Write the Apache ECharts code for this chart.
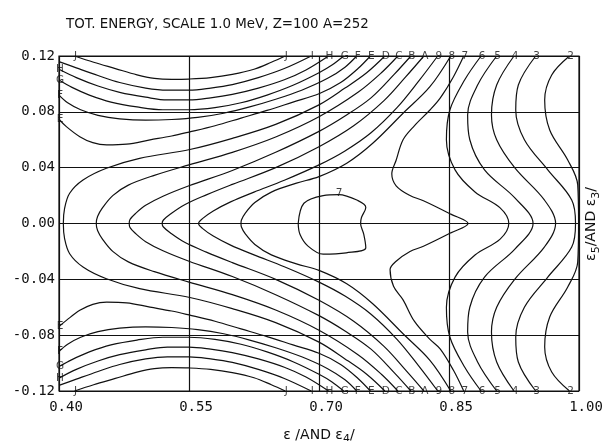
<!DOCTYPE html>
<html>
  <head>
    <title>Total energy contours</title>
    <style>
      html, body {
        margin: 0;
        padding: 0;
        width: 603px;
        height: 441px;
        background: #fff;
      }
      #chart {
        width: 603px;
        height: 441px;
      }
    </style>
  </head>
  <body>
    <div id="chart"></div>
    <script src="https://cdn.jsdelivr.net/npm/echarts@6/dist/echarts.min.js"></script>
    <script type="text/javascript">

      // axis ranges and tick labels
      const xTickLabels = ['0.40', '0.55', '0.70', '0.85', '1.00'];
      const yTickLabels = ['-0.12', '-0.08', '-0.04', '0.00', '0.04', '0.08', '0.12'];

      // contour levels, U shaped ones near the top and bottom edge
      const curveJTop = [[0.418,0.12],[0.44,0.1155],[0.465,0.111],[0.49,0.1065],[0.51,0.104],[0.53,0.1033],[0.55,0.1035],[0.575,0.1045],[0.60,0.1068],[0.625,0.1105],[0.645,0.1155],[0.661,0.12]];
      const curveITop = [[0.40,0.116],[0.42,0.1115],[0.445,0.106],[0.47,0.101],[0.50,0.097],[0.525,0.0955],[0.55,0.0955],[0.575,0.097],[0.60,0.0995],[0.63,0.1045],[0.66,0.111],[0.691,0.12]];
      const curveHTop = [[0.40,0.1105],[0.42,0.1045],[0.445,0.0985],[0.47,0.094],[0.50,0.0905],[0.525,0.0885],[0.55,0.0885],[0.575,0.09],[0.60,0.0925],[0.63,0.097],[0.66,0.103],[0.685,0.11],[0.711,0.12]];
      const curveGTop = [[0.40,0.1028],[0.415,0.0975],[0.435,0.092],[0.46,0.087],[0.49,0.0835],[0.52,0.0815],[0.55,0.0815],[0.58,0.083],[0.61,0.0865],[0.64,0.092],[0.67,0.099],[0.70,0.108],[0.715,0.1135],[0.7285,0.12]];
      const curveFTop = [[0.40,0.092],[0.41,0.0865],[0.425,0.0815],[0.445,0.0775],[0.47,0.075],[0.50,0.074],[0.53,0.0745],[0.56,0.076],[0.59,0.079],[0.62,0.0835],[0.65,0.089],[0.68,0.0955],[0.71,0.104],[0.73,0.112],[0.7435,0.12]];
      const curveETop = [[0.40,0.0747],[0.4085,0.0694],[0.424,0.0622],[0.439,0.0579],[0.455,0.0563],[0.478,0.0568],[0.505,0.0599],[0.53,0.0627],[0.55,0.0655],[0.58,0.07],[0.61,0.0755],[0.64,0.081],[0.67,0.087],[0.70,0.093],[0.725,0.101],[0.745,0.111],[0.7593,0.12]];

      const curveJBottom = [[0.418,-0.12],[0.44,-0.1155],[0.465,-0.111],[0.49,-0.1065],[0.51,-0.104],[0.53,-0.1033],[0.55,-0.1035],[0.575,-0.1045],[0.60,-0.1068],[0.625,-0.1105],[0.645,-0.1155],[0.661,-0.12]];
      const curveIBottom = [[0.40,-0.116],[0.42,-0.1115],[0.445,-0.106],[0.47,-0.101],[0.50,-0.097],[0.525,-0.0955],[0.55,-0.0955],[0.575,-0.097],[0.60,-0.0995],[0.63,-0.1045],[0.66,-0.111],[0.691,-0.12]];
      const curveHBottom = [[0.40,-0.1108],[0.42,-0.1045],[0.445,-0.0985],[0.47,-0.094],[0.50,-0.0905],[0.525,-0.0885],[0.55,-0.0885],[0.575,-0.09],[0.60,-0.0925],[0.63,-0.097],[0.66,-0.103],[0.685,-0.11],[0.711,-0.12]];
      const curveGBottom = [[0.40,-0.1025],[0.415,-0.0975],[0.435,-0.092],[0.46,-0.087],[0.49,-0.0835],[0.52,-0.0815],[0.55,-0.0815],[0.58,-0.083],[0.61,-0.0865],[0.64,-0.092],[0.67,-0.099],[0.70,-0.108],[0.715,-0.1135],[0.7285,-0.12]];
      const curveFBottom = [[0.40,-0.0917],[0.41,-0.0865],[0.425,-0.0815],[0.445,-0.0775],[0.47,-0.075],[0.50,-0.074],[0.53,-0.0745],[0.56,-0.076],[0.59,-0.079],[0.62,-0.0835],[0.65,-0.089],[0.68,-0.0955],[0.71,-0.104],[0.73,-0.112],[0.7435,-0.12]];
      const curveEBottom = [[0.40,-0.0738],[0.4085,-0.0694],[0.424,-0.0622],[0.439,-0.0579],[0.455,-0.0563],[0.478,-0.0568],[0.505,-0.0599],[0.53,-0.0627],[0.55,-0.0655],[0.58,-0.07],[0.61,-0.0755],[0.64,-0.081],[0.67,-0.087],[0.70,-0.093],[0.725,-0.101],[0.745,-0.111],[0.7593,-0.12]];

      // contours bending round to a nose on the symmetric line
      const curveD = [[0.776,0.12],[0.755,0.108],[0.73,0.097],[0.70,0.085],[0.65,0.071],[0.60,0.061],[0.551,0.053],[0.493,0.0467],[0.4547,0.0396],[0.4277,0.0312],[0.4123,0.0217],[0.4065,0.011],[0.405,0],[0.4065,-0.011],[0.4123,-0.0217],[0.4277,-0.0312],[0.4547,-0.0396],[0.493,-0.0467],[0.551,-0.053],[0.60,-0.061],[0.65,-0.071],[0.70,-0.085],[0.73,-0.097],[0.755,-0.108],[0.776,-0.12]];
      const curveC = [[0.791,0.12],[0.772,0.108],[0.745,0.094],[0.70,0.0765],[0.65,0.062],[0.60,0.051],[0.55,0.042],[0.51,0.0345],[0.48,0.0275],[0.462,0.02],[0.4505,0.0115],[0.4445,0.005],[0.443,0],[0.4445,-0.005],[0.4505,-0.0115],[0.462,-0.02],[0.48,-0.0275],[0.51,-0.0345],[0.55,-0.042],[0.60,-0.051],[0.65,-0.062],[0.70,-0.0765],[0.745,-0.094],[0.772,-0.108],[0.791,-0.12]];
      const curveB = [[0.806,0.12],[0.787,0.107],[0.76,0.09],[0.73,0.077],[0.70,0.066],[0.65,0.051],[0.60,0.038],[0.55,0.027],[0.52,0.0195],[0.50,0.013],[0.488,0.007],[0.482,0.003],[0.481,0],[0.482,-0.003],[0.488,-0.007],[0.50,-0.013],[0.52,-0.0195],[0.55,-0.027],[0.60,-0.038],[0.65,-0.051],[0.70,-0.066],[0.73,-0.077],[0.76,-0.09],[0.787,-0.107],[0.806,-0.12]];
      const curveA = [[0.821,0.12],[0.80,0.105],[0.775,0.088],[0.74,0.07],[0.70,0.055],[0.65,0.04],[0.60,0.028],[0.57,0.0205],[0.545,0.0135],[0.529,0.007],[0.5205,0.0025],[0.519,0],[0.5205,-0.0025],[0.529,-0.007],[0.545,-0.0135],[0.57,-0.0205],[0.60,-0.028],[0.65,-0.04],[0.70,-0.055],[0.74,-0.07],[0.775,-0.088],[0.80,-0.105],[0.821,-0.12]];
      const curve9 = [[0.837,0.12],[0.815,0.102],[0.79,0.083],[0.76,0.065],[0.73,0.052],[0.70,0.042],[0.66,0.031],[0.625,0.0225],[0.598,0.0155],[0.578,0.009],[0.5655,0.0035],[0.561,0],[0.5655,-0.0035],[0.578,-0.009],[0.598,-0.0155],[0.625,-0.0225],[0.66,-0.031],[0.70,-0.042],[0.73,-0.052],[0.76,-0.065],[0.79,-0.083],[0.815,-0.102],[0.837,-0.12]];
      const curve8 = [[0.852,0.12],[0.828,0.098],[0.797,0.079],[0.762,0.0575],[0.732,0.0432],[0.70,0.0336],[0.674,0.0289],[0.645,0.0225],[0.626,0.015],[0.615,0.0075],[0.6105,0.0025],[0.61,0],[0.6105,-0.0025],[0.615,-0.0075],[0.626,-0.015],[0.645,-0.0225],[0.674,-0.0289],[0.70,-0.0336],[0.732,-0.0432],[0.762,-0.0575],[0.797,-0.079],[0.828,-0.098],[0.852,-0.12]];

      // closed loop round the local minimum
      const curve7Loop = [[0.676,0],[0.6826,0.0145],[0.7048,0.02],[0.7226,0.0207],[0.745,0.0164],[0.754,0.0115],[0.749,0.0043],[0.748,0],[0.7516,-0.0077],[0.754,-0.0174],[0.7315,-0.021],[0.7048,-0.022],[0.687,-0.016],[0.678,-0.0077],[0.676,0]];

      // saddle contour and the wavy ones on the fission side
      const curve7 = [[0.867,0.12],[0.855,0.105],[0.84,0.09],[0.828,0.0813],[0.81,0.07],[0.797,0.06],[0.789,0.0453],[0.784,0.0356],[0.789,0.027],[0.805,0.02],[0.8205,0.0163],[0.852,0.0067],[0.872,0],[0.852,-0.0067],[0.8205,-0.0163],[0.805,-0.02],[0.789,-0.027],[0.782,-0.033],[0.786,-0.045],[0.797,-0.0547],[0.81,-0.07],[0.828,-0.083],[0.84,-0.09],[0.855,-0.105],[0.867,-0.12]];
      const curve6 = [[0.887,0.12],[0.868,0.1028],[0.851,0.0813],[0.847,0.06],[0.857,0.0384],[0.88,0.0226],[0.909,0.0112],[0.919,0],[0.909,-0.0112],[0.88,-0.0226],[0.857,-0.0384],[0.847,-0.06],[0.851,-0.0813],[0.868,-0.1028],[0.887,-0.12]];
      const curve5 = [[0.905,0.12],[0.883,0.0992],[0.8715,0.0778],[0.874,0.06],[0.891,0.0384],[0.926,0.0183],[0.947,0],[0.926,-0.0183],[0.891,-0.0384],[0.874,-0.06],[0.8715,-0.0778],[0.883,-0.0992],[0.905,-0.12]];
      const curve4 = [[0.925,0.12],[0.905,0.0992],[0.899,0.0778],[0.905,0.06],[0.926,0.0398],[0.96,0.0169],[0.973,0],[0.96,-0.0169],[0.926,-0.0398],[0.905,-0.06],[0.899,-0.0778],[0.905,-0.0992],[0.925,-0.12]];
      const curve3 = [[0.95,0.12],[0.93,0.0992],[0.927,0.0813],[0.937,0.06],[0.964,0.0384],[0.9916,0.0169],[0.996,0],[0.9916,-0.0169],[0.964,-0.0384],[0.937,-0.06],[0.927,-0.0813],[0.93,-0.0992],[0.95,-0.12]];
      const curve2 = [[0.989,0.12],[0.9685,0.1064],[0.9604,0.0885],[0.9662,0.067],[0.987,0.0455],[0.9985,0.0277],[0.9995,0],[0.9985,-0.0277],[0.987,-0.0455],[0.9662,-0.067],[0.9604,-0.0885],[0.9685,-0.1064],[0.989,-0.12]];

      // level letters as the plotter wrote them on the frame
      const edgeLetters = ['J','I','H','G','F','E','D','C','B','A','9','8','7','6','5','4','3','2'];
      const edgeLetterX = [0.661,0.691,0.711,0.7285,0.7435,0.7593,0.776,0.791,0.806,0.821,0.837,0.852,0.867,0.887,0.905,0.925,0.95,0.989];
      const leftLetters = ['H','G','F','E'];
      const leftLetterTopY = [0.1105,0.1028,0.092,0.0747];
      const leftLetterBottomY = [-0.1108,-0.1025,-0.0917,-0.0738];

      const contourPaths = [
        curveJTop, curveITop, curveHTop, curveGTop, curveFTop, curveETop,
        curveJBottom, curveIBottom, curveHBottom, curveGBottom, curveFBottom, curveEBottom,
        curveD, curveC, curveB, curveA, curve9, curve8,
        curve7Loop, curve7, curve6, curve5, curve4, curve3, curve2
      ];

      const letterData = [];
      edgeLetters.forEach((t, i) => {
        letterData.push({ name: t, value: [edgeLetterX[i], 0.12] });
        letterData.push({ name: t, value: [edgeLetterX[i], -0.12] });
      });
      leftLetters.forEach((t, i) => {
        letterData.push({ name: t, value: [0.40, leftLetterTopY[i]] });
        letterData.push({ name: t, value: [0.40, leftLetterBottomY[i]] });
      });
      letterData.push({ name: 'J', value: [0.418, 0.12] });
      letterData.push({ name: 'J', value: [0.418, -0.12] });
      letterData.push({ name: '7', value: [0.722, 0.0217] });

      const plotFont = 'DejaVu Sans';

      const series = contourPaths.map(path => ({
        type: 'line',
        data: path,
        smooth: 0.35,
        symbol: 'none',
        clip: true,
        silent: true,
        lineStyle: { color: '#111', width: 1.2 }
      }));

      series.push({
        type: 'scatter',
        data: letterData,
        symbolSize: 1,
        itemStyle: { color: 'rgba(0,0,0,0)' },
        silent: true,
        label: {
          show: true,
          formatter: '{b}',
          position: 'inside',
          offset: [1, 0],
          fontSize: 10.5,
          fontFamily: plotFont,
          color: '#111'
        },
        z: 5
      });

      const chart = echarts.init(document.getElementById('chart'), null, { renderer: 'canvas' });

      chart.setOption({
        animation: false,
        backgroundColor: '#fff',
        title: {
          text: 'TOT. ENERGY, SCALE 1.0 MeV, Z=100 A=252',
          left: 61,
          top: 13,
          textStyle: { fontSize: 13.4, fontWeight: 'normal', fontFamily: plotFont, color: '#111' }
        },
        grid: {
          left: 59, right: 24, top: 56, bottom: 50,
          containLabel: false,
          outerBoundsMode: 'none',
          show: true, borderColor: '#111', borderWidth: 1.2
        },
        xAxis: {
          type: 'value',
          min: Number(xTickLabels[0]),
          max: Number(xTickLabels[xTickLabels.length - 1]),
          interval: 0.15,
          axisLine: { show: false },
          axisTick: { show: false },
          splitLine: { show: true, lineStyle: { color: '#111', width: 1.2 } },
          axisLabel: {
            formatter: v => v.toFixed(2),
            fontFamily: 'DejaVu Sans Mono',
            fontSize: 14,
            color: '#111',
            margin: 9,
            padding: [0, 0, 0, 14]
          },
          name: 'ε /AND ε{s|4}/',
          nameLocation: 'middle',
          nameGap: 34,
          nameTextStyle: {
            fontFamily: plotFont, fontSize: 14, color: '#111',
            rich: { s: { fontSize: 11, padding: [9, 0, 0, 0], fontFamily: plotFont, color: '#111' } }
          }
        },
        yAxis: {
          type: 'value',
          min: Number(yTickLabels[0]),
          max: Number(yTickLabels[yTickLabels.length - 1]),
          interval: 0.04,
          axisLine: { show: false },
          axisTick: { show: false },
          splitLine: { show: true, lineStyle: { color: '#111', width: 1.2 } },
          axisLabel: {
            formatter: v => v.toFixed(2),
            fontFamily: 'DejaVu Sans Mono',
            fontSize: 14,
            color: '#111',
            margin: 4
          }
        },
        graphic: [{
          type: 'text',
          x: 591,
          y: 224,
          rotation: Math.PI / 2,
          style: {
            text: 'ε{s|5}/AND ε{s|3}/',
            fontFamily: plotFont,
            fontSize: 14,
            fill: '#111',
            align: 'center',
            verticalAlign: 'middle',
            rich: { s: { fontSize: 11, padding: [10, 0, 0, 0], fontFamily: plotFont, fill: '#111' } }
          }
        }],
        series: series
      });
    </script>
  </body>
</html>
